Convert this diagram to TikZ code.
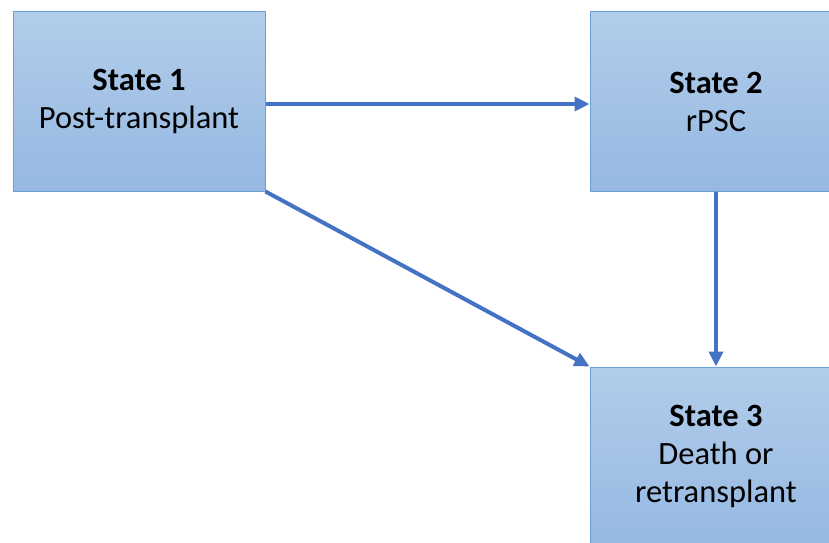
\documentclass[tikz,border=0pt]{standalone}
\usepackage{fontspec}
\setmainfont{Carlito}
\usepackage{tikz}
\usetikzlibrary{positioning,arrows.meta}

\definecolor{boxtop}{HTML}{B2CDEA}
\definecolor{boxbottom}{HTML}{95B8E2}
\definecolor{boxline}{HTML}{6A9FD8}
\definecolor{arrowblue}{HTML}{4472C4}

\tikzset{
  state_box/.style={draw=boxline, line width=1pt, top color=boxtop, bottom color=boxbottom,
    minimum width=252pt, minimum height=179pt, inner sep=0pt, align=center,
    font=\fontsize{32.5}{38}\selectfont},
  state_arrow/.style={draw=arrowblue, line width=4pt, -{Triangle[width=14pt,length=15pt]}}
}

\begin{document}
\begin{tikzpicture}[x=1pt,y=1pt]
\useasboundingbox (0,0) rectangle (829,542);
\node[state_box] (state_a) at (139,440.5) {\textbf{State 1}\\Post-transplant};
\node[state_box] (state_b) at (716,440.5) {\textbf{State 2}\\rPSC};
\node[state_box] (state_c) at (716,85.5) {\textbf{State 3}\\Death or\\retransplant};
\draw[state_arrow] ([yshift=-2.5pt]state_a.east) to ([yshift=-2.5pt]state_b.west);
\draw[state_arrow] (state_a.south east) to (state_c.north west);
\draw[state_arrow] (state_b.south) to (state_c.north);
\end{tikzpicture}
\end{document}
